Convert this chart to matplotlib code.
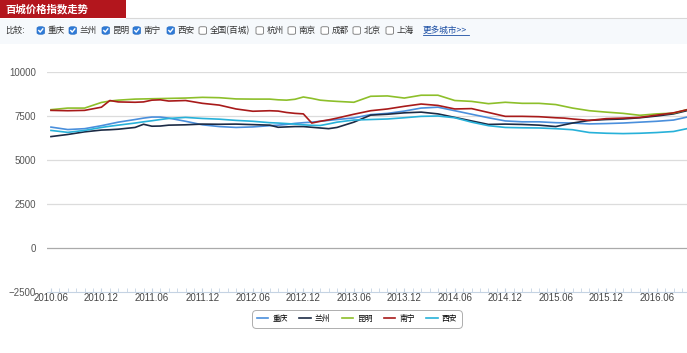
import matplotlib
matplotlib.use("Agg")
import matplotlib.pyplot as plt
from matplotlib.patches import Rectangle, FancyBboxPatch
from matplotlib.lines import Line2D

plt.rcParams['font.family'] = ['Liberation Sans', 'Noto Sans CJK SC', 'DejaVu Sans']

# months since 2010.06
months = [0, 2, 4, 6, 7, 8, 10, 11, 12, 13, 14, 16, 18, 20, 22, 24, 26, 27, 28, 29,
          30, 31, 32, 33, 34, 36, 38, 40, 42, 44, 46, 48, 50, 52, 54, 56, 58, 60, 61,
          62, 64, 66, 68, 70, 72, 74, 76]

chongqing = [6870, 6730, 6780, 6950, 7050, 7150, 7300, 7380, 7440, 7440, 7380, 7200,
             7000, 6900, 6850, 6880, 6950, 6980, 7020, 7080, 7120, 7150, 7200, 7250,
             7300, 7390, 7580, 7650, 7780, 7950, 8000, 7800, 7600, 7400, 7220, 7170,
             7170, 7120, 7110, 7100, 7050, 7070, 7100, 7150, 7200, 7270, 7480]
lanzhou = [6330, 6450, 6600, 6700, 6720, 6750, 6850, 7030, 6920, 6930, 6980, 7000,
           7040, 7030, 7040, 7010, 6980, 6860, 6880, 6900, 6900, 6860, 6820, 6780,
           6850, 7150, 7550, 7600, 7680, 7720, 7620, 7420, 7220, 7020, 7040, 7020,
           6980, 6900, 7000, 7100, 7250, 7300, 7330, 7400, 7500, 7620, 7850]
kunming = [7860, 7950, 7950, 8270, 8350, 8400, 8460, 8470, 8480, 8490, 8500, 8520,
           8560, 8540, 8470, 8460, 8460, 8420, 8400, 8450, 8580, 8500, 8400, 8360,
           8330, 8280, 8620, 8640, 8520, 8680, 8680, 8380, 8330, 8200, 8280, 8220,
           8220, 8150, 8050, 7950, 7800, 7720, 7650, 7540, 7620, 7660, 7910]
nanning = [7820, 7800, 7820, 8000, 8380, 8300, 8280, 8300, 8400, 8420, 8350, 8380,
           8220, 8120, 7900, 7770, 7800, 7780, 7700, 7650, 7620, 7100, 7200, 7280,
           7380, 7600, 7800, 7900, 8050, 8180, 8100, 7900, 7920, 7700, 7480, 7480,
           7460, 7400, 7380, 7330, 7250, 7350, 7380, 7420, 7550, 7680, 7900]
xian = [6680, 6570, 6680, 6850, 6920, 6980, 7100, 7170, 7230, 7300, 7360, 7420,
        7360, 7320, 7250, 7200, 7120, 7100, 7070, 7040, 7000, 6970, 6960, 7050,
        7150, 7270, 7300, 7330, 7400, 7480, 7500, 7400, 7150, 6950, 6850, 6830,
        6820, 6780, 6750, 6720, 6560, 6520, 6500, 6520, 6560, 6620, 6820]

series_names = ['重庆', '兰州', '昆明', '南宁', '西安']
series_colors = ['#4a8fdc', '#1c2b45', '#8dbf2a', '#a81a1a', '#27b1d9']
series_data = [chongqing, lanzhou, kunming, nanning, xian]

tick_months = [0, 6, 12, 18, 24, 30, 36, 42, 48, 54, 60, 66, 72]
tick_labels = ['2010.06', '2010.12', '2011.06', '2011.12', '2012.06', '2012.12',
               '2013.06', '2013.12', '2014.06', '2014.12', '2015.06', '2015.12',
               '2016.06']
y_ticks = [-2500, 0, 2500, 5000, 7500, 10000]

checked = ['重庆', '兰州', '昆明', '南宁', '西安']
unchecked = ['全国(百城)', '杭州', '南京', '成都', '北京', '上海']

W, H = 687, 353
fig = plt.figure(figsize=(W / 100, H / 100), dpi=100)


def fx(px):
    return px / W


def fy(py):
    return 1 - py / H


# header
fig.patches.append(Rectangle((fx(0), fy(18)), fx(126), fy(0) - fy(18),
                             transform=fig.transFigure, facecolor='#b3161d', edgecolor='none'))
fig.text(fx(5), fy(9), '百城价格指数走势', color='white', fontsize=7.5, fontweight='bold',
         family=['Noto Sans CJK SC'], va='center', ha='left')
fig.lines.append(Line2D([fx(126), 1], [fy(18), fy(18)], transform=fig.transFigure,
                        color='#d8d8d8', lw=0.8))
fig.patches.append(Rectangle((0, fy(44)), 1, fy(19) - fy(44), transform=fig.transFigure,
                             facecolor='#f6f9fc', edgecolor='none'))

# compare row
row_y = 30.5
fig.text(fx(5), fy(row_y), '比较:', fontsize=6.2, color='#333333', va='center',
         family=['Noto Sans CJK SC'])
box_x = [37, 69, 102, 133, 167, 199, 256, 288, 321, 353, 386]
labels = checked + unchecked
for bx, lab in zip(box_x, labels):
    s = 7.5
    if lab in checked:
        fig.patches.append(FancyBboxPatch((fx(bx), fy(row_y + s / 2)), fx(s), fy(0) - fy(s),
                                          boxstyle='round,pad=0,rounding_size=0.004',
                                          transform=fig.transFigure, facecolor='#2f7bd8',
                                          edgecolor='#2a6fc4', lw=0.5))
        fig.lines.append(Line2D([fx(bx + 1.8), fx(bx + 3.2), fx(bx + 5.8)],
                                [fy(row_y), fy(row_y + 1.6), fy(row_y - 1.6)],
                                transform=fig.transFigure, color='white', lw=1.0))
    else:
        fig.patches.append(FancyBboxPatch((fx(bx), fy(row_y + s / 2)), fx(s), fy(0) - fy(s),
                                          boxstyle='round,pad=0,rounding_size=0.003',
                                          transform=fig.transFigure, facecolor='white',
                                          edgecolor='#767676', lw=0.6))
    fig.text(fx(bx + 10.5), fy(row_y), lab, fontsize=6.2, color='#333333', va='center',
             family=['Noto Sans CJK SC'])
fig.text(fx(423), fy(row_y), '更多城市>>', fontsize=6.2, color='#1b4ea3', va='center',
         family=['Noto Sans CJK SC', 'DejaVu Sans'])
fig.lines.append(Line2D([fx(423), fx(469)], [fy(row_y + 4.5), fy(row_y + 4.5)],
                        transform=fig.transFigure, color='#1b4ea3', lw=0.6))

# chart
ax = fig.add_axes([fx(47), fy(292), 1 - fx(47), fy(72) - fy(292)])
for y in y_ticks[1:]:
    ax.axhline(y, color='#aaaaaa' if y == 0 else '#dcdcdc', lw=0.9, zorder=1)

lines = []
for name, col, vals in zip(series_names, series_colors, series_data):
    ln, = ax.plot(months, vals, color=col, lw=1.2, label=name, zorder=3)
    lines.append(ln)

ax.set_xlim(-0.47, 75.6)
ax.set_ylim(-2500, 10000)
ax.set_yticks(y_ticks)
ax.set_yticklabels([str(v).replace('-', '\u2212') for v in y_ticks], fontsize=7,
                   color='#555555')
ax.set_xticks(tick_months)
ax.set_xticklabels(tick_labels, fontsize=7, color='#444444')
ax.set_xticks(range(0, 76), minor=True)
ax.tick_params(axis='y', length=0, pad=8)
ax.tick_params(axis='x', which='both', direction='in', length=3, color='#c5d3e3',
               pad=1)
for sp in ['top', 'right', 'left']:
    ax.spines[sp].set_visible(False)
ax.spines['bottom'].set_color('#c5d3e3')
ax.patch.set_alpha(0)

leg = fig.legend(handles=lines, labels=series_names, loc='center',
                 bbox_to_anchor=(fx(357), fy(319)), ncol=5, frameon=True,
                 prop={'family': 'Noto Sans CJK SC', 'size': 5.6},
                 handlelength=1.45, handletextpad=0.5, columnspacing=1.5,
                 borderpad=0.5, fancybox=True)
leg.get_frame().set_edgecolor('#999999')
leg.get_frame().set_linewidth(0.7)
leg.get_frame().set_boxstyle('round,pad=0.2,rounding_size=0.6')

fig.savefig('out.png', dpi=100)
